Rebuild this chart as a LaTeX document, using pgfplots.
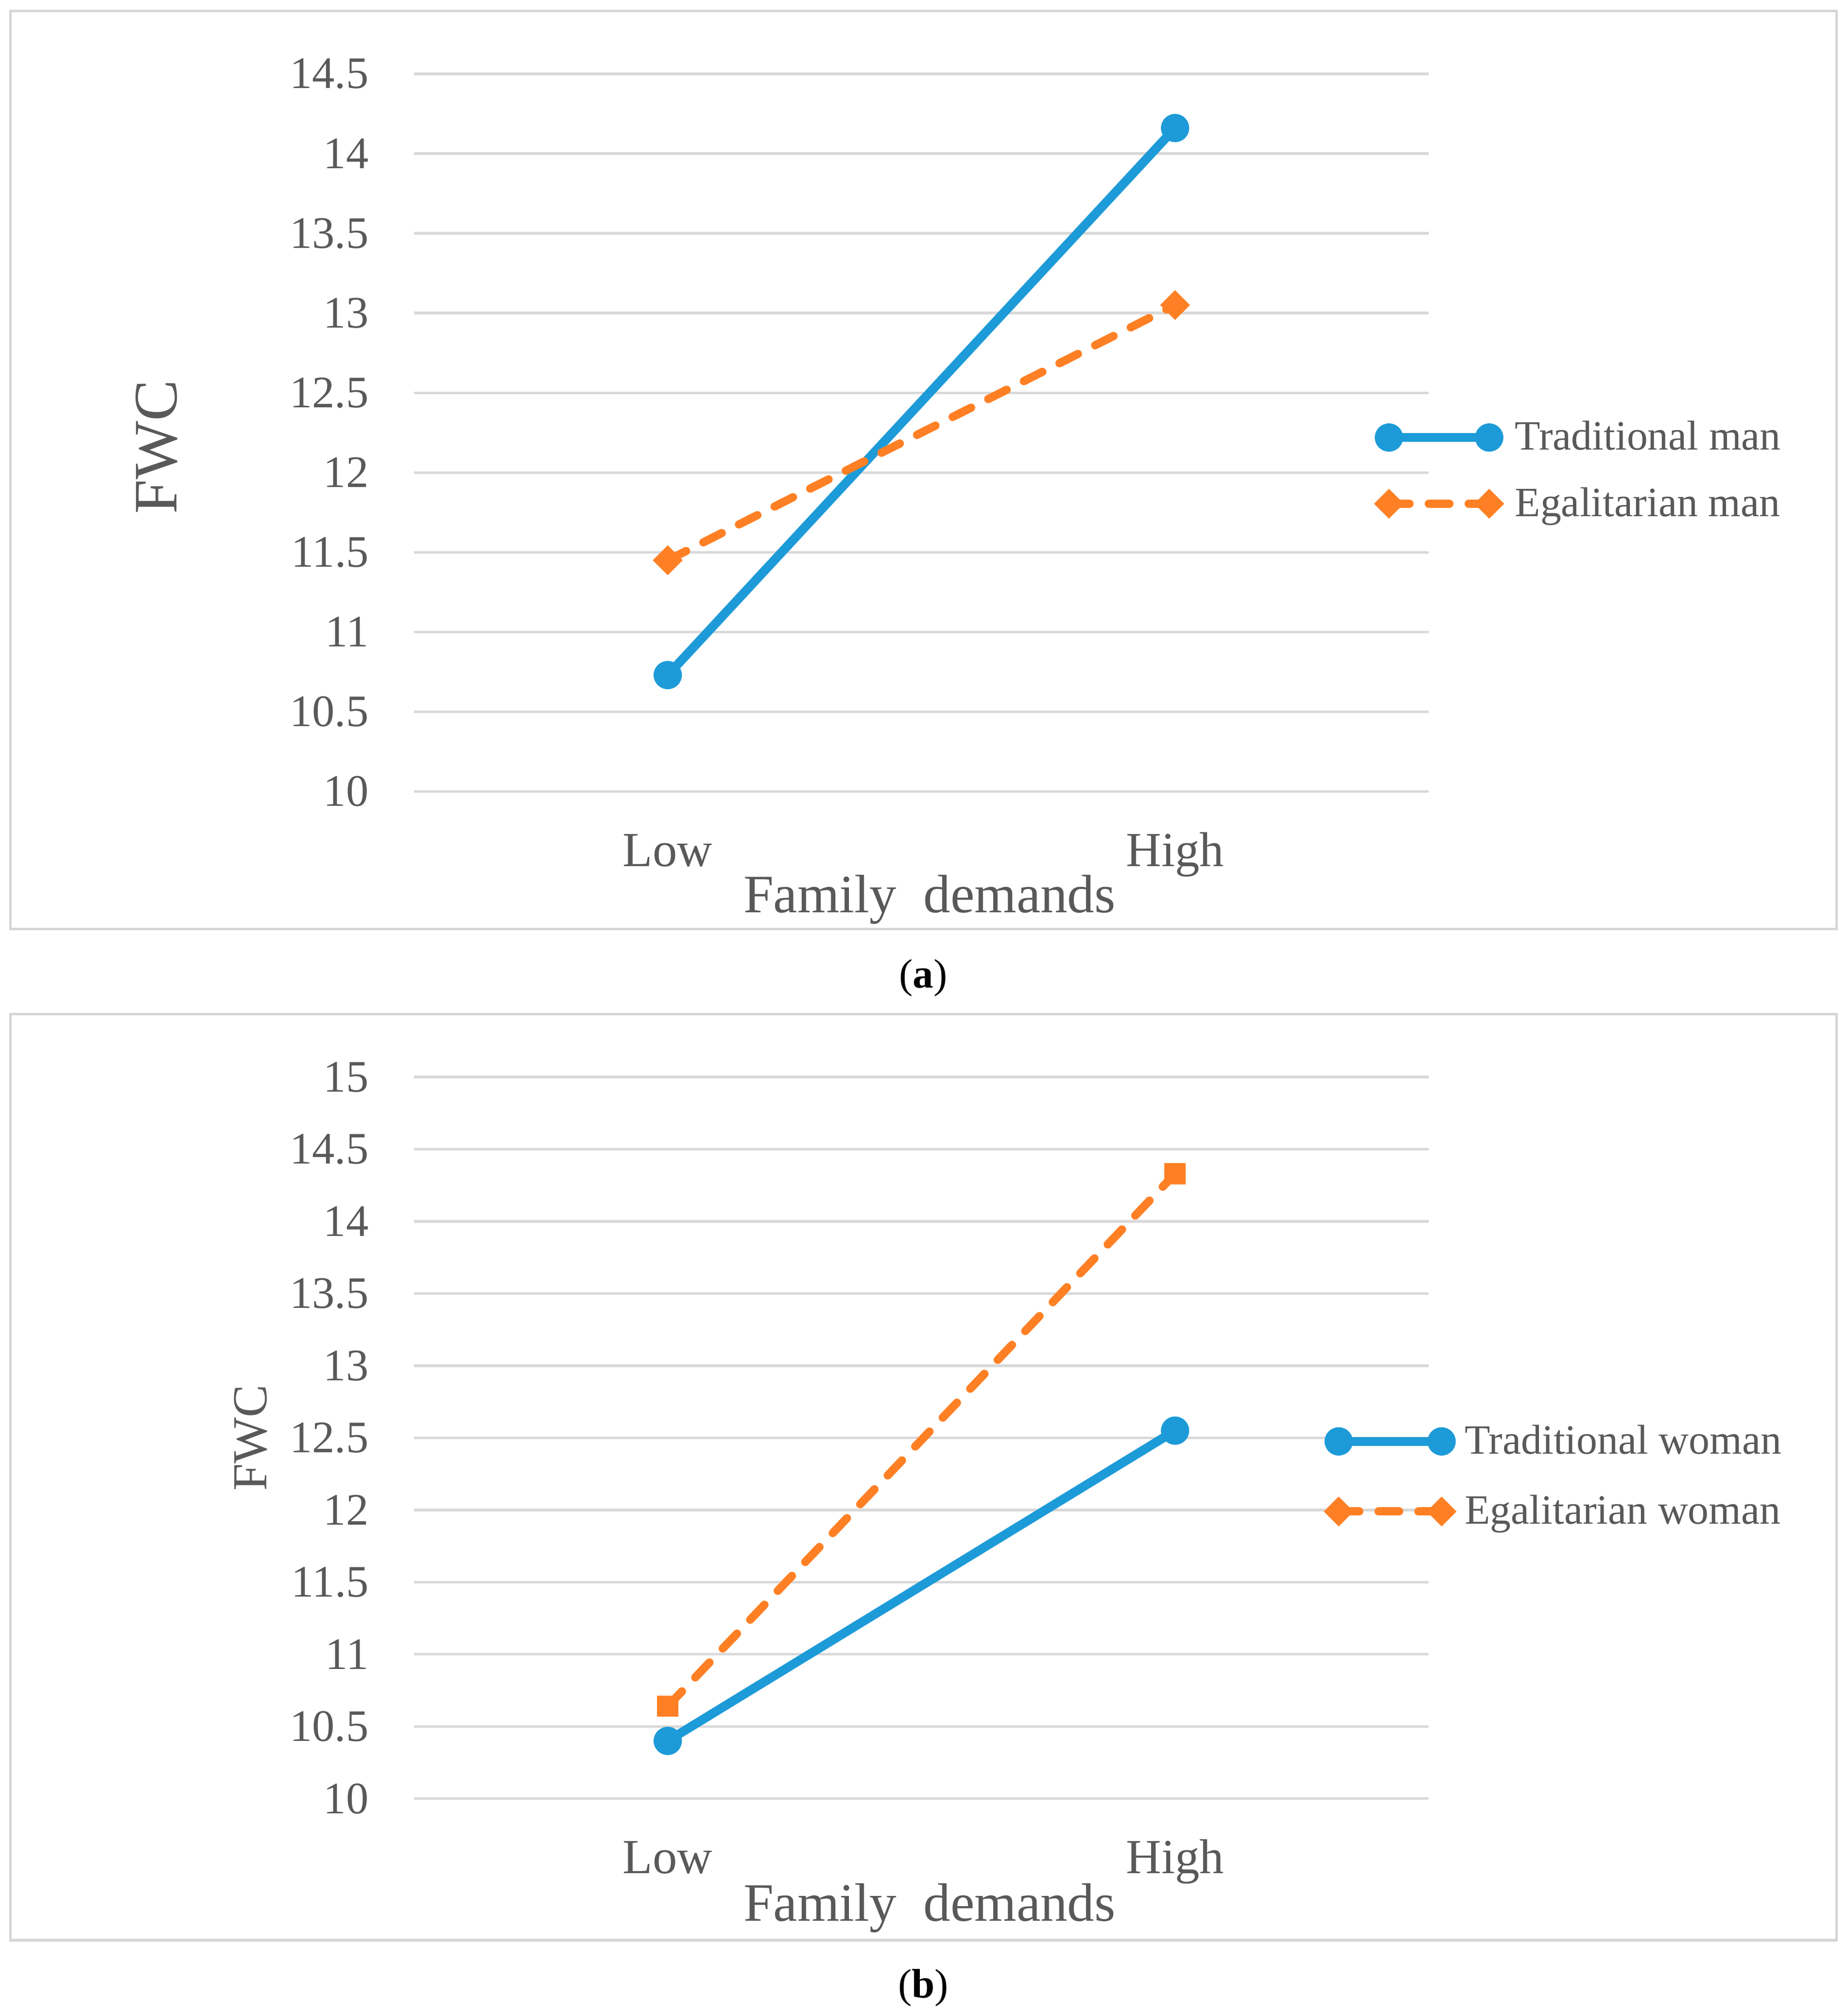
\documentclass[border=0pt]{standalone}
\usepackage{fontspec}
\setmainfont{Liberation Serif}
\usepackage{pgfplots}
\pgfplotsset{compat=1.18}
\definecolor{tblue}{RGB}{29,155,216}
\definecolor{torange}{RGB}{255,128,36}
\definecolor{tgray}{RGB}{89,89,89}
\definecolor{ggray}{RGB}{217,217,217}
\definecolor{fgray}{RGB}{214,214,214}
\pgfplotsset{
  mystyle/.style={
    scale only axis, width=394.5pt, enlargelimits=false,
    xmin=-0.5, xmax=1.5, xtick={0,1}, xticklabels={Low,High},
    axis line style={draw=none}, major tick length=0pt, tick style={draw=none},
    ymajorgrids, grid style={line width=1pt, color=ggray},
    /pgf/number format/assume math mode=true,
    yticklabel style={font=\fontsize{17.5}{21}\selectfont, text=tgray, anchor=east, inner sep=0pt, xshift=-17.5pt},
    xticklabel style={font=\fontsize{19}{23}\selectfont, text=tgray, anchor=base, inner sep=0pt, yshift=-29pt},
    clip=false,
    legend cell align=left,
  },
  blueline/.style={color=tblue, line width=3.5pt, mark=*, mark size=5.3pt, mark options={solid, line width=0.4pt}},
  orangeline/.style={color=torange, line width=3.2pt, line cap=round, dash pattern=on 8pt off 7.5pt},
}
\begin{document}
\begin{tikzpicture}
\useasboundingbox (0,0) rectangle (718.5pt,783.7pt);
\draw[fgray, line width=1pt] (4pt,422.5pt) rectangle (714pt,779.5pt);
\draw[fgray, line width=1pt] (4pt,29.5pt) rectangle (714pt,389.5pt);
\node[font=\fontsize{16}{19}\selectfont, inner sep=0pt] at (359pt,403.5pt) {(\textbf{a})};
\node[font=\fontsize{16}{19}\selectfont, inner sep=0pt] at (359pt,11pt) {(\textbf{b})};

% Panel (a)
\begin{axis}[mystyle, at={(161pt,476pt)}, anchor=south west, height=279pt,
  ymin=10, ymax=14.5, ytick={10,10.5,11,11.5,12,12.5,13,13.5,14,14.5},
  xlabel={Family\hspace{0.5em}demands}, ylabel={FWC},
  every axis x label/.style={at={(axis description cs:0.508,-0.1685)}, anchor=base, font=\fontsize{21}{25}\selectfont, text=tgray},
  every axis y label/.style={at={(axis description cs:-0.2535,0.480)}, rotate=90, anchor=center, font=\fontsize{24}{28}\selectfont, text=tgray},
  legend image code/.code={\draw[#1] plot coordinates {(0pt,0pt) (39pt,0pt)};},
  legend style={at={(axis description cs:0.9468,0.4471)}, anchor=west, draw=none, fill=none, inner sep=0pt, outer sep=0pt,
    font=\fontsize{16.2}{19}\selectfont, text=tgray, row sep=13pt, column sep=4.5pt, nodes={inner sep=0pt}},
]
\addplot[blueline] coordinates {(0,10.73) (1,14.16)};
\addlegendentry{Traditional man}
\addplot[orangeline, mark=square*, mark size=3.9pt, mark options={solid, rotate=45, line width=0.4pt}] coordinates {(0,11.45) (1,13.05)};
\addlegendentry{Egalitarian man}
\end{axis}

% Panel (b)
\begin{axis}[mystyle, at={(161pt,84.5pt)}, anchor=south west, height=280.5pt,
  ymin=10, ymax=15, ytick={10,10.5,11,11.5,12,12.5,13,13.5,14,14.5,15},
  xlabel={Family\hspace{0.5em}demands}, ylabel={FWC},
  every axis x label/.style={at={(axis description cs:0.508,-0.1693)}, anchor=base, font=\fontsize{21}{25}\selectfont, text=tgray},
  every axis y label/.style={at={(axis description cs:-0.161,0.5)}, rotate=90, anchor=center, font=\fontsize{19}{23}\selectfont, text=tgray},
  legend image code/.code={\draw[#1] plot coordinates {(0pt,0pt) (40pt,0pt)};},
  legend style={at={(axis description cs:0.8973,0.4465)}, anchor=west, draw=none, fill=none, inner sep=0pt, outer sep=0pt,
    font=\fontsize{16.2}{19}\selectfont, text=tgray, row sep=14.5pt, column sep=3.5pt, nodes={inner sep=0pt}},
]
\addplot[blueline] coordinates {(0,10.40) (1,12.55)};
\addlegendentry{Traditional woman}
\addplot[orangeline, mark=square*, mark size=3.9pt, mark options={solid, line width=0.4pt}, forget plot] coordinates {(0,10.64) (1,14.33)};
\addlegendimage{orangeline, mark=square*, mark size=3.9pt, mark options={solid, rotate=45, line width=0.4pt}}
\addlegendentry{Egalitarian woman}
\end{axis}
\end{tikzpicture}
\end{document}
